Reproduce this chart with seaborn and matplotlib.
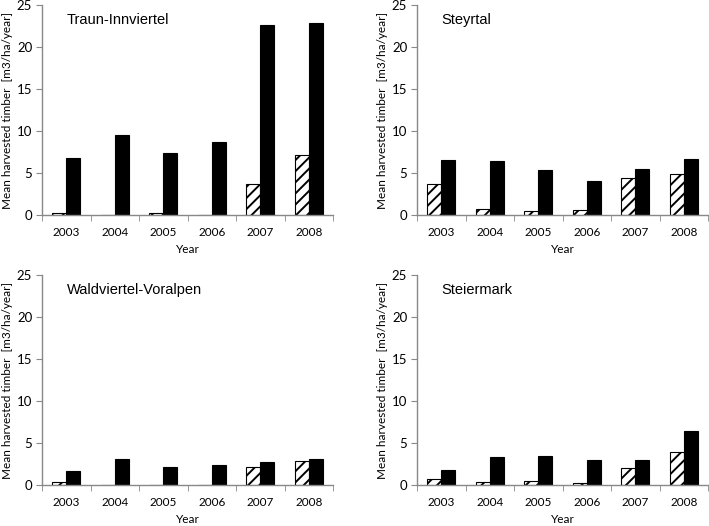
import matplotlib
matplotlib.use("Agg")
import matplotlib.pyplot as plt
import seaborn as sns
import pandas as pd

years = ["2003", "2004", "2005", "2006", "2007", "2008"]
regions = ["Traun-Innviertel", "Steyrtal", "Waldviertel-Voralpen", "Steiermark"]

# hatched series (first bar of each pair)
hatched = {
    "Traun-Innviertel": [0.25, 0.0, 0.25, 0.0, 3.7, 7.2],
    "Steyrtal": [3.65, 0.75, 0.5, 0.6, 4.45, 4.9],
    "Waldviertel-Voralpen": [0.4, 0.0, 0.0, 0.0, 2.2, 2.9],
    "Steiermark": [0.75, 0.4, 0.48, 0.28, 1.98, 3.95],
}
# solid black series (second bar)
solid = {
    "Traun-Innviertel": [6.75, 9.55, 7.35, 8.75, 22.65, 22.85],
    "Steyrtal": [6.55, 6.45, 5.4, 4.0, 5.5, 6.65],
    "Waldviertel-Voralpen": [1.65, 3.15, 2.1, 2.35, 2.72, 3.05],
    "Steiermark": [1.8, 3.38, 3.5, 2.95, 2.95, 6.4],
}

sns.set_style("white")
plt.rcParams["font.family"] = ["Lato", "DejaVu Sans"]
plt.rcParams["hatch.linewidth"] = 1.4
plt.rcParams["text.color"] = "black"
plt.rcParams["axes.labelcolor"] = "black"

fig = plt.figure(figsize=(7.09, 5.26), dpi=100)
W, H = 709, 526
rects = [(42, 5), (417, 5), (42, 275), (417, 275)]
aw, ah = 291, 210

for region, (px, py) in zip(regions, rects):
    ax = fig.add_axes([px / W, 1 - (py + ah) / H, aw / W, ah / H])
    df = pd.DataFrame({
        "Year": years * 2,
        "value": hatched[region] + solid[region],
        "kind": ["a"] * 6 + ["b"] * 6,
    })
    sns.barplot(data=df, x="Year", y="value", hue="kind",
                palette=["white", "black"], edgecolor="black", linewidth=0.8,
                width=0.58, legend=False, ax=ax)
    for bar in ax.containers[0]:
        bar.set_hatch("///")

    ax.set_xlim(-0.5, 5.5)
    ax.set_ylim(0, 25)
    ax.set_yticks([0, 5, 10, 15, 20, 25])
    ax.set_xticks([i - 0.5 for i in range(7)], minor=True)
    ax.tick_params(axis="x", which="major", length=0, labelsize=8.5, pad=9,
                   labelcolor="black")
    ax.tick_params(axis="x", which="minor", length=4, color="#888888",
                   direction="out", bottom=True)
    ax.tick_params(axis="y", length=4, color="#888888", direction="out",
                   left=True, labelsize=9.5, labelcolor="black", pad=3)
    for s in ["top", "right"]:
        ax.spines[s].set_visible(False)
    for s in ["left", "bottom"]:
        ax.spines[s].set_color("#888888")
        ax.spines[s].set_linewidth(1)
    ax.set_xlabel("Year", fontsize=8.5, labelpad=4)
    ax.set_ylabel("Mean harvested timber  [m3/ha/year]", fontsize=8.5)
    ax.yaxis.set_label_coords(-0.098, 0.5)
    ax.text(0.085, 0.93, region, transform=ax.transAxes, fontsize=10.5,
            family=["Liberation Sans"], va="center", ha="left")

fig.savefig("out.png", dpi=100)
